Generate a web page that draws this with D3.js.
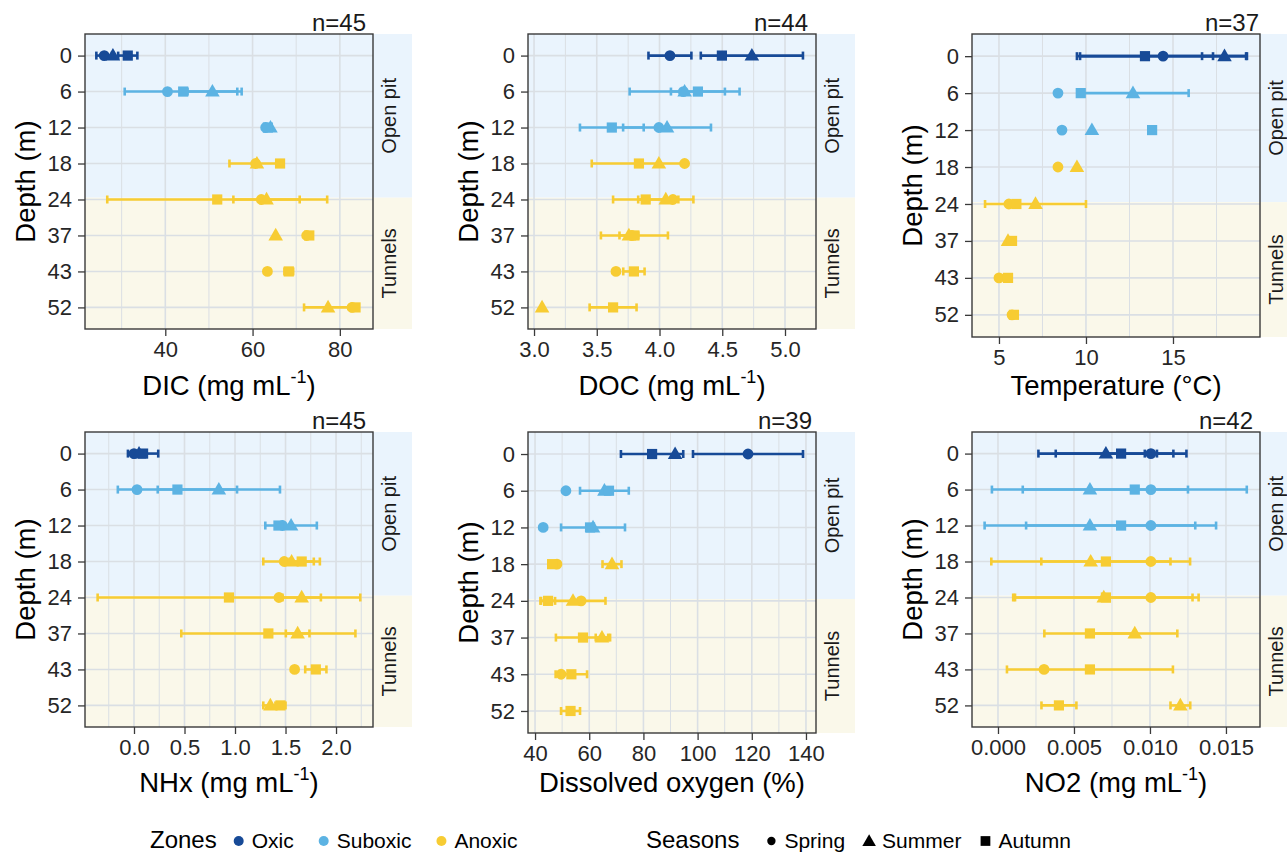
<!DOCTYPE html>
<html>
<head>
<meta charset="utf-8">
<script src="https://cdn.jsdelivr.net/npm/d3@7"></script>
<style>
  body { margin: 0; background: #fff; }
  svg { font-family: "Liberation Sans", Arial, sans-serif; }
</style>
</head>
<body>
<svg id="chart" width="1287" height="854"></svg>
<script>
// depth levels, their redox zone and the site part they belong to
const depths = ["0", "6", "12", "18", "24", "37", "43", "52"];
const depthZones = ["Oxic", "Suboxic", "Suboxic", "Anoxic", "Anoxic", "Anoxic", "Anoxic", "Anoxic"];
const zones = ["Oxic", "Suboxic", "Anoxic"];
const zoneColors = ["#174a97", "#5cb3e3", "#f7cc33"];
const seasons = ["Spring", "Summer", "Autumn"];
const sites = ["Open pit", "Tunnels"];
const siteSplitDepth = "24";
const sampleCounts = [45, 44, 37, 45, 39, 42];

// means per depth as [spring, summer, autumn], null = not sampled
const dicMean = [[26.0, 28.0, 31.4], [40.5, 50.8, 44.1], [63.0, 64.1, 63.5], [60.7, 61.0, 66.3],
  [62.0, 63.2, 51.9], [72.4, 65.3, 73.0], [63.4, null, 68.3], [82.8, 77.3, 83.6]];
const dicSd = [[1.8, null, 2.2], [null, 5.7, 13.4], [null, null, null], [6.0, null, null],
  [null, 7.6, 25.2], [null, null, 0.6], [null, null, 1.0], [null, 5.5, 0.7]];

const docMean = [[4.083, 4.736, 4.497], [4.19, 4.20, 4.306], [3.995, 4.06, 3.62], [4.20, 3.995, 3.836],
  [4.107, 4.05, 3.89], [3.78, 3.756, 3.80], [3.653, null, 3.796], [null, 3.064, 3.63]];
const docSd = [[0.171, 0.407, null], [null, 0.438, 0.215], [null, 0.35, 0.254], [null, null, 0.376],
  [null, 0.22, 0.26], [null, 0.075, 0.267], [null, null, 0.085], [null, null, 0.187]];

const tempMean = [[14.43, 17.96, 13.39], [8.39, 12.7, 9.7], [8.62, 10.34, 13.8], [8.39, 9.48, null],
  [5.57, 7.1, 6.0], [null, 5.52, 5.75], [5.0, null, 5.52], [5.75, null, 5.86]];
const tempSd = [[4.77, 1.29, 3.91], [null, 3.2, null], [null, null, null], [null, null, null],
  [null, 2.9, null], [null, null, null], [null, null, null], [null, null, null]];

const nhxMean = [[0.0, 0.05, 0.09], [0.03, 0.84, 0.43], [1.47, 1.555, 1.43], [1.487, 1.56, 1.66],
  [1.435, 1.66, 0.94], [null, 1.62, 1.33], [1.59, null, 1.80], [null, 1.35, 1.45]];
const nhxSd = [[null, null, 0.15], [null, 0.605, 0.59], [null, 0.255, null], [null, 0.28, 0.12],
  [null, 0.19, 1.30], [null, 0.117, 0.862], [null, null, 0.105], [null, 0.07, 0.05]];

const doMean = [[118.6, 91.7, 83.2], [51.4, 65.6, 67.3], [43.0, 61.4, 60.3], [48.1, 68.4, 46.3],
  [57.0, 54.0, 44.8], [null, 64.7, 57.7], [49.6, null, 53.4], [null, null, 53.1]];
const doSd = [[20.3, null, 11.5], [null, 9.0, null], [null, 11.8, null], [null, 3.5, 1.0],
  [null, 12.0, 2.6], [null, 2.3, 10.0], [null, null, 5.8], [null, null, 3.5]];

const no2Mean = [[0.01006, 0.0071, 0.0081], [0.01006, 0.00605, 0.0090], [0.01006, 0.00605, 0.0081],
  [0.01006, 0.0061, 0.0071], [0.01006, 0.00696, 0.0071], [null, 0.0090, 0.00605],
  [0.00303, null, 0.00605], [null, 0.0120, 0.00401]];
const no2Sd = [[0.0004, 0.00444, 0.0043], [null, 0.00645, 0.00737], [null, 0.00693, 0.00625],
  [null, 0.00654, 0.00425], [null, 0.00584, 0.0061], [null, 0.0028, 0.003],
  [null, null, 0.00546], [null, 0.00065, 0.00115]];

// axis ticks
const dicTicks = [40, 60, 80];
const docTicks = [3.0, 3.5, 4.0, 4.5, 5.0];
const tempTicks = [5, 10, 15];
const nhxTicks = [0.0, 0.5, 1.0, 1.5, 2.0];
const doTicks = [40, 60, 80, 100, 120, 140];
const no2Ticks = [0.000, 0.005, 0.010, 0.015];

const panels = [
  { mean: dicMean, sd: dicSd, ticks: dicTicks, domain: [21.6, 87.6], fmt: "d", title: ["DIC (mg mL", "-1", ")"], col: 0, row: 0, bottom: 329, nOff: 7 },
  { mean: docMean, sd: docSd, ticks: docTicks, domain: [2.952, 5.247], fmt: ".1f", title: ["DOC (mg mL", "-1", ")"], col: 1, row: 0, bottom: 329, nOff: 8 },
  { mean: tempMean, sd: tempSd, ticks: tempTicks, domain: [3.45, 20.0], fmt: "d", title: ["Temperature (°C)"], col: 2, row: 0, bottom: 337, nOff: 1 },
  { mean: nhxMean, sd: nhxSd, ticks: nhxTicks, domain: [-0.485, 2.366], fmt: ".1f", title: ["NHx (mg mL", "-1", ")"], col: 0, row: 1, bottom: 727, nOff: 7 },
  { mean: doMean, sd: doSd, ticks: doTicks, domain: [37.4, 143.7], fmt: "d", title: ["Dissolved oxygen (%)"], col: 1, row: 1, bottom: 733, nOff: 4 },
  { mean: no2Mean, sd: no2Sd, ticks: no2Ticks, domain: [-0.00171, 0.01724], fmt: ".3f", title: ["NO2 (mg mL", "-1", ")"], col: 2, row: 1, bottom: 727, nOff: 7 }
];

const colLeft = [85, 528, 972];
const panelW = 288;
const rowTop = [34, 432];
const titleY = [395, 792];
const stripW = 39;
const bgColors = ["#eaf4fd", "#faf8ea"];
const gridColor = "#dadfe4";

const svg = d3.select("#chart");
const zoneColor = d3.scaleOrdinal().domain(zones).range(zoneColors);
const shape = d3.scaleOrdinal().domain(seasons).range([d3.symbolCircle, d3.symbolTriangle, d3.symbolSquare]);
const shapeSize = { Spring: 92, Summer: 92, Autumn: 104 };

panels.forEach((p, i) => {
  const left = colLeft[p.col], right = left + panelW;
  const top = rowTop[p.row], bottom = p.bottom;
  const g = svg.append("g");

  const x = d3.scaleLinear().domain(p.domain).range([left, right]);
  const y = d3.scalePoint().domain(depths).range([top, bottom]).padding(0.6);
  const split = y(siteSplitDepth) - y.step() * 0.05;

  // site backgrounds (panel + strip)
  g.append("rect").attr("x", left).attr("y", top).attr("width", panelW + stripW)
    .attr("height", split - top).attr("fill", bgColors[0]);
  g.append("rect").attr("x", left).attr("y", split).attr("width", panelW + stripW)
    .attr("height", bottom - split).attr("fill", bgColors[1]);

  // grid
  const step = p.ticks[1] - p.ticks[0];
  const minor = d3.range(p.ticks[0] - step / 2, p.domain[1], step).filter(v => v > p.domain[0]);
  g.append("g").selectAll("line").data(minor).join("line")
    .attr("x1", d => x(d)).attr("x2", d => x(d)).attr("y1", top).attr("y2", bottom)
    .attr("stroke", gridColor).attr("stroke-width", 1);
  g.append("g").selectAll("line").data(p.ticks).join("line")
    .attr("x1", d => x(d)).attr("x2", d => x(d)).attr("y1", top).attr("y2", bottom)
    .attr("stroke", gridColor).attr("stroke-width", 1.6);
  g.append("g").selectAll("line").data(depths).join("line")
    .attr("x1", left).attr("x2", right).attr("y1", d => y(d)).attr("y2", d => y(d))
    .attr("stroke", gridColor).attr("stroke-width", 1.6);

  // flatten values
  const pts = [];
  depths.forEach((d, di) => {
    seasons.forEach((s, si) => {
      const m = p.mean[di][si];
      if (m == null) return;
      pts.push({ depth: d, season: s, zone: depthZones[di], mean: m, sd: p.sd[di][si] });
    });
  });

  // error bars
  const eb = g.append("g").selectAll("g").data(pts.filter(d => d.sd != null)).join("g")
    .attr("stroke", d => zoneColor(d.zone)).attr("stroke-width", 2.6);
  eb.append("line")
    .attr("x1", d => x(d.mean - d.sd)).attr("x2", d => x(d.mean + d.sd))
    .attr("y1", d => y(d.depth)).attr("y2", d => y(d.depth));
  eb.append("line")
    .attr("x1", d => x(d.mean - d.sd)).attr("x2", d => x(d.mean - d.sd))
    .attr("y1", d => y(d.depth) - 4).attr("y2", d => y(d.depth) + 4);
  eb.append("line")
    .attr("x1", d => x(d.mean + d.sd)).attr("x2", d => x(d.mean + d.sd))
    .attr("y1", d => y(d.depth) - 4).attr("y2", d => y(d.depth) + 4);

  // points
  g.append("g").selectAll("path").data(pts).join("path")
    .attr("transform", d => `translate(${x(d.mean)},${y(d.depth) + (d.season === "Summer" ? 0.8 : 0)})`)
    .attr("d", d => d3.symbol().type(shape(d.season)).size(shapeSize[d.season])())
    .attr("fill", d => zoneColor(d.zone));

  // panel border
  g.append("rect").attr("x", left).attr("y", top).attr("width", panelW).attr("height", bottom - top)
    .attr("fill", "none").attr("stroke", "#3a3a3a").attr("stroke-width", 1.4);

  // strip labels
  const siteMid = [(top + split) / 2, (split + bottom) / 2];
  g.append("g").selectAll("text").data(sites).join("text")
    .attr("transform", (d, k) => `translate(${right + 16},${siteMid[k]}) rotate(-90)`)
    .attr("text-anchor", "middle").attr("dominant-baseline", "central")
    .style("font-size", "20px").style("fill", "#1a1a1a")
    .text(d => d);

  // axes
  const xAxis = g.append("g").attr("transform", `translate(0,${bottom})`)
    .call(d3.axisBottom(x).tickValues(p.ticks).tickFormat(d3.format(p.fmt)).tickSize(7).tickPadding(5));
  const yAxis = g.append("g").attr("transform", `translate(${left},0)`)
    .call(d3.axisLeft(y).tickSize(7).tickPadding(6));
  [xAxis, yAxis].forEach(a => {
    a.select(".domain").remove();
    a.selectAll(".tick line").attr("stroke", "#3a3a3a").attr("stroke-width", 1.3);
    a.selectAll(".tick text").style("font-size", "22px").style("fill", "#262626")
      .style("font-family", "'Liberation Sans', Arial, sans-serif");
  });

  // axis titles
  const xt = g.append("text").attr("x", (left + right) / 2).attr("y", titleY[p.row])
    .attr("text-anchor", "middle").style("font-size", "27.5px").style("fill", "#000");
  xt.append("tspan").text(p.title[0]);
  if (p.title.length > 1) {
    xt.append("tspan").attr("dy", -12).style("font-size", "18px").text(p.title[1]);
    xt.append("tspan").attr("dy", 12).text(p.title[2]);
  }
  g.append("text")
    .attr("transform", `translate(${left - 60},${(top + bottom) / 2}) rotate(-90)`)
    .attr("text-anchor", "middle").attr("dominant-baseline", "central")
    .style("font-size", "27.5px").style("fill", "#000").text("Depth (m)");

  // sample count
  g.append("text").attr("x", right - p.nOff).attr("y", top - 3).attr("text-anchor", "end")
    .style("font-size", "24px").style("fill", "#1a1a1a").text("n=" + sampleCounts[i]);
});

// legends
const legendY = 848;
function legend(title, items, startX, gapTitle, gapLabel, gapItem, drawKey) {
  const lg = svg.append("g");
  const t = lg.append("text").attr("x", startX).attr("y", legendY)
    .style("font-size", "24px").style("fill", "#000").text(title);
  let cx = startX + t.node().getComputedTextLength() + gapTitle;
  items.forEach((it, k) => {
    drawKey(lg, cx, legendY - 7, it, k);
    const lt = lg.append("text").attr("x", cx + gapLabel).attr("y", legendY)
      .style("font-size", "21px").style("fill", "#000").text(it);
    cx = cx + gapLabel + lt.node().getComputedTextLength() + gapItem;
  });
}
legend("Zones", zones, 150, 22, 13, 30, (lg, cx, cy, it) => {
  lg.append("circle").attr("cx", cx).attr("cy", cy).attr("r", 5).attr("fill", zoneColor(it));
});
legend("Seasons", seasons, 646, 32, 13, 24, (lg, cx, cy, it) => {
  lg.append("path").attr("transform", `translate(${cx},${cy + (it === "Summer" ? 1 : 0)})`)
    .attr("d", d3.symbol().type(shape(it)).size(it === "Spring" ? 55 : it === "Summer" ? 80 : 95)())
    .attr("fill", "#000");
});
</script>
</body>
</html>
